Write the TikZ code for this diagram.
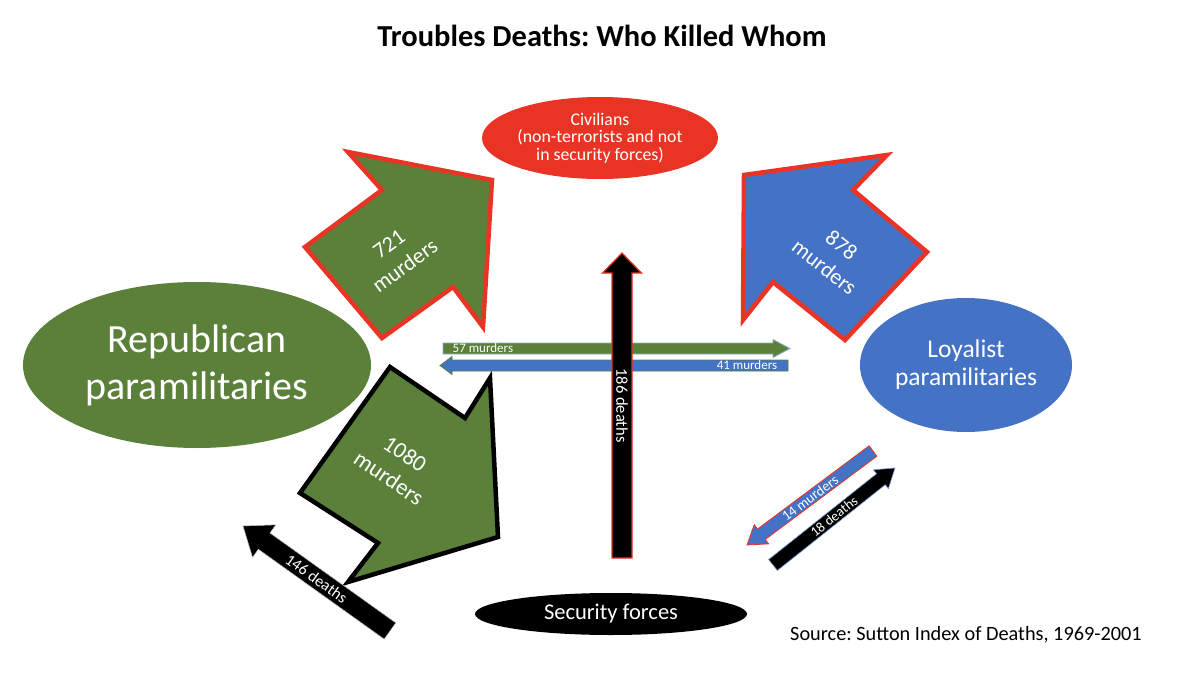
\documentclass[tikz,border=0pt]{standalone}
\usepackage{fontspec}
\setmainfont{Carlito}
\frenchspacing
\usetikzlibrary{shapes.geometric,calc}

\definecolor{repgreen}{RGB}{90,128,58}
\definecolor{loyblue}{RGB}{68,114,196}
\definecolor{civred}{RGB}{233,52,37}

\tikzset{
  party/.style={ellipse, inner sep=0pt, text=white, align=center},
  bigarrow/.style={line width=4.5pt, line join=miter},
  arrowlabel/.style={text=white, align=center, inner sep=0pt},
}

\newcommand{\blockarrow}[6]{%
  \coordinate (hb) at ($(#3)!#6!(#2)$);
  \filldraw[#1] ($(#2)!#4!90:(#3)$) -- ($(hb)!#4!90:(#3)$) -- ($(hb)!#5!90:(#3)$) -- (#3)
    -- ($(hb)!#5!-90:(#3)$) -- ($(hb)!#4!-90:(#3)$) -- ($(#2)!#4!-90:(#3)$) -- cycle;
}

\begin{document}
\begin{tikzpicture}[x=1pt,y=-1pt]
\fill[white] (0,0) rectangle (1200,685);
\useasboundingbox (0,0) rectangle (1200,685);

\node[font=\fontsize{30.5}{36}\selectfont\bfseries] (title) at (602,36) {Troubles Deaths: Who Killed Whom};

\node[party, fill=civred, minimum width=236pt, minimum height=82pt, font=\fontsize{17.8}{17.5}\selectfont] (civ) at (600,138) {Civilians\\(non-terrorists and not\\in security forces)};
\node[party, fill=repgreen, minimum width=348pt, minimum height=166pt, font=\fontsize{40}{47}\selectfont] (rep) at (197,365) {Republican\\paramilitaries};
\node[party, fill=loyblue, minimum width=212pt, minimum height=134pt, font=\fontsize{25.5}{28}\selectfont] (loy) at (966,365) {Loyalist\\paramilitaries};
\node[party, fill=black, minimum width=272pt, minimum height=42pt, font=\fontsize{22.5}{27}\selectfont] (sec) at (611,614) {Security forces};
\node[font=\fontsize{20.3}{24}\selectfont] (source) at (966,635) {Source: Sutton Index of Deaths, 1969-2001};

\filldraw[bigarrow, fill=repgreen, draw=civred] (492,180) -- (348,152) -- (382,190) -- (305,247) -- (382,338) -- (453,287) -- (483,327) -- cycle;
\filldraw[bigarrow, fill=loyblue, draw=civred] (744,175) -- (887,155) -- (853,190) -- (927,252) -- (845,340) -- (773,282) -- (743,320) -- cycle;
\filldraw[bigarrow, fill=repgreen, draw=black] (498,537) -- (348,582) -- (378,543) -- (300,493) -- (390,367) -- (465,418) -- (490,378) -- cycle;

\node[arrowlabel, rotate=36, font=\fontsize{22}{27}\selectfont] (n721) at (397,255) {721\\murders};
\node[arrowlabel, rotate=-38, font=\fontsize{22}{28}\selectfont] (n878) at (833,256) {878\\murders};
\node[arrowlabel, rotate=-34, font=\fontsize{23}{29}\selectfont] (n1080) at (397,466) {1080\\murders};

\coordinate (rl tail) at (443,348.5);
\coordinate (rl tip) at (790,348.5);
\blockarrow{fill=repgreen, draw=loyblue!60, line width=0.8pt}{rl tail}{rl tip}{5.5pt}{9pt}{17pt}
\path (rl tail) -- (rl tip) node[pos=0.115, arrowlabel, font=\fontsize{13}{15}\selectfont] (n57) {57 murders};

\coordinate (lr tail) at (788,365.5);
\coordinate (lr tip) at (440,365.5);
\blockarrow{fill=loyblue, draw=repgreen, line width=0.8pt}{lr tail}{lr tip}{5.5pt}{9pt}{12pt}
\path (lr tail) -- (lr tip) node[pos=0.118, arrowlabel, font=\fontsize{13}{15}\selectfont] (n41) {41 murders};

\coordinate (sc tail) at (622,558);
\coordinate (sc tip) at (622,253);
\blockarrow{fill=black, draw=civred, line width=1.2pt}{sc tail}{sc tip}{10pt}{19.5pt}{20pt}
\path (sc tip) -- (sc tail) node[midway, sloped, arrowlabel, font=\fontsize{16.5}{18}\selectfont] (n186) {186 deaths};

\coordinate (lb tail) at (873,451);
\coordinate (lb tip) at (747,545);
\blockarrow{fill=loyblue, draw=civred, line width=0.8pt}{lb tail}{lb tip}{6.5pt}{12pt}{18pt}
\path (lb tail) -- (lb tip) node[midway, sloped, arrowlabel, font=\fontsize{14.3}{16}\selectfont] (n14) {14 murders};

\coordinate (bl tail) at (773,565);
\coordinate (bl tip) at (895,468);
\blockarrow{fill=black, draw=loyblue!70, line width=0.6pt}{bl tail}{bl tip}{7pt}{12pt}{18pt}
\path (bl tail) -- (bl tip) node[midway, sloped, arrowlabel, font=\fontsize{14}{16}\selectfont] (n18) {18 deaths};

\coordinate (sr tail) at (390,631);
\coordinate (sr tip) at (243,526);
\blockarrow{fill=black, draw=repgreen!40, line width=0.5pt}{sr tail}{sr tip}{10pt}{20pt}{26pt}
\path (sr tail) -- (sr tip) node[midway, sloped, arrowlabel, font=\fontsize{16}{18}\selectfont] (n146) {146 deaths};
\end{tikzpicture}
\end{document}
